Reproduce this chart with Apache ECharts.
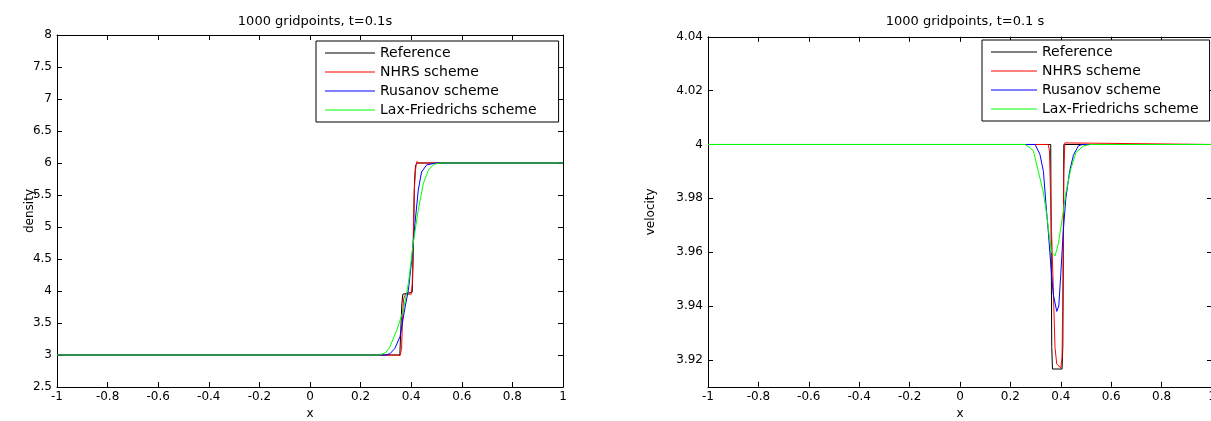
<!DOCTYPE html>
<html><head><meta charset="utf-8">
<script src="https://cdn.jsdelivr.net/npm/echarts@6/dist/echarts.min.js"></script>
<style>html,body{margin:0;padding:0;background:#fff}#c{width:1211px;height:421px}</style>
</head><body><div id="c"></div>
<script>
// ---- data ----
const seriesNames = ['Reference', 'NHRS scheme', 'Rusanov scheme', 'Lax-Friedrichs scheme'];
const seriesColors = ['#000000', '#ff0000', '#0000ff', '#00ff00'];
const titles = ['1000 gridpoints, t=0.1s', '1000 gridpoints, t=0.1 s'];
const yNames = ['density', 'velocity'];
const xTicks = [-1, -0.8, -0.6, -0.4, -0.2, 0, 0.2, 0.4, 0.6, 0.8, 1];
const densityTicks = [2.5, 3, 3.5, 4, 4.5, 5, 5.5, 6, 6.5, 7, 7.5, 8];
const velocityTicks = [3.92, 3.94, 3.96, 3.98, 4, 4.02, 4.04];

// density (x, rho)
const densRef = [[-1,3],[0.355,3],[0.359,3.4],[0.363,3.8],[0.367,3.95],[0.372,3.97],[0.404,3.98],[0.407,4.4],[0.410,5.1],[0.413,5.7],[0.417,5.96],[0.423,6],[1,6]];
const densNHRS = [[-1,3],[0.345,3],[0.356,2.99],[0.362,3.1],[0.366,3.6],[0.370,3.88],[0.378,3.95],[0.400,3.95],[0.404,4.1],[0.408,4.8],[0.412,5.55],[0.417,5.9],[0.422,6.02],[0.432,6],[1,6]];
const densRus = [[-1,3],[0.30,3],[0.316,3.02],[0.335,3.1],[0.356,3.29],[0.376,3.75],[0.389,4.02],[0.402,4.48],[0.415,5.06],[0.428,5.58],[0.441,5.86],[0.461,5.97],[0.50,6],[1,6]];
const densLF = [[-1,3],[0.275,3],[0.30,3.04],[0.316,3.13],[0.343,3.39],[0.369,3.70],[0.389,4.12],[0.408,4.75],[0.428,5.27],[0.448,5.68],[0.468,5.89],[0.49,5.98],[0.515,6],[1,6]];

// velocity (x, u)
const velRef = [[-1,4],[0.360,4],[0.362,3.96],[0.364,3.925],[0.367,3.9166],[0.405,3.9166],[0.408,3.925],[0.410,3.96],[0.412,4],[1,4]];
const velNHRS = [[-1,4],[0.34,4],[0.345,4.0004],[0.35,4],[0.355,3.9976],[0.362,3.9716],[0.37,3.947],[0.377,3.9246],[0.384,3.9184],[0.40,3.917],[0.405,3.921],[0.409,3.95],[0.412,3.99],[0.416,4.0006],[0.42,4],[1,4]];
const velRus = [[-1,4],[0.298,4],[0.317,3.9964],[0.331,3.990],[0.341,3.978],[0.351,3.967],[0.36,3.9556],[0.37,3.9444],[0.384,3.938],[0.392,3.940],[0.40,3.952],[0.41,3.968],[0.42,3.980],[0.435,3.990],[0.45,3.996],[0.47,3.9995],[0.485,4],[1,4]];
const velLF = [[-1,4],[0.258,4],[0.275,3.999],[0.291,3.9977],[0.311,3.990],[0.331,3.982],[0.344,3.974],[0.355,3.9655],[0.364,3.960],[0.377,3.9586],[0.39,3.963],[0.405,3.972],[0.42,3.982],[0.44,3.991],[0.46,3.997],[0.49,3.9995],[0.52,4],[1,4]];

const densData = [densRef, densNHRS, densRus, densLF];
const velData = [velRef, velNHRS, velRus, velLF];

// ---- chart ----
const FONT = 'DejaVu Sans, sans-serif';
const txt = {color: '#000', fontFamily: FONT, fontSize: 12};
const grids = [
  {left: 57, top: 35, width: 506, height: 352, outerBoundsMode: 'none', containLabel: false},
  {left: 708, top: 36.8, width: 504, height: 350, outerBoundsMode: 'none', containLabel: false}
];
const axLine = {show: true, onZero: false, lineStyle: {color: '#000', width: 1}};
const tick = {show: true, inside: true, length: 5, lineStyle: {color: '#000', width: 1}};

function fmt(v) { return String(Math.round(v * 1000) / 1000); }

const xAxis = [], yAxis = [];
for (let g = 0; g < 2; g++) {
  xAxis.push({type: 'value', gridIndex: g, position: 'bottom', min: -1, max: 1, interval: 0.2,
    axisLine: axLine, axisTick: tick, splitLine: {show: false},
    axisLabel: Object.assign({margin: 4, formatter: fmt, showMinLabel: true, showMaxLabel: true, hideOverlap: false}, txt),
    name: 'x', nameLocation: 'middle', nameGap: 21, nameMoveOverlap: false, nameTextStyle: txt});
  xAxis.push({type: 'value', gridIndex: g, position: 'top', min: -1, max: 1, interval: 0.2,
    axisLine: axLine, axisTick: tick, splitLine: {show: false}, axisLabel: {show: false}});
}
// density axes
yAxis.push({type: 'value', gridIndex: 0, position: 'left', min: 2.5, max: 8, interval: 0.5,
  axisLine: axLine, axisTick: tick, splitLine: {show: false},
  axisLabel: Object.assign({margin: 5, formatter: fmt, hideOverlap: false}, txt),
  name: yNames[0], nameLocation: 'middle', nameGap: 21, nameMoveOverlap: false, nameTextStyle: txt});
yAxis.push({type: 'value', gridIndex: 0, position: 'right', min: 2.5, max: 8, interval: 0.5,
  axisLine: axLine, axisTick: tick, splitLine: {show: false}, axisLabel: {show: false}});
// velocity axes
yAxis.push({type: 'value', gridIndex: 1, position: 'left', min: 3.91, max: 4.04,
  axisLine: axLine, splitLine: {show: false},
  axisTick: Object.assign({customValues: velocityTicks}, tick),
  axisLabel: Object.assign({margin: 5, formatter: fmt, customValues: velocityTicks, hideOverlap: false}, txt),
  name: yNames[1], nameLocation: 'middle', nameGap: 51, nameMoveOverlap: false, nameTextStyle: txt});
yAxis.push({type: 'value', gridIndex: 1, position: 'right', min: 3.91, max: 4.04,
  axisLine: axLine, splitLine: {show: false},
  axisTick: Object.assign({customValues: velocityTicks}, tick),
  axisLabel: {show: false, customValues: velocityTicks}});

const series = [];
for (let i = 0; i < 4; i++) {
  series.push({type: 'line', name: seriesNames[i], xAxisIndex: 0, yAxisIndex: 0, data: densData[i],
    symbol: 'none', color: seriesColors[i], lineStyle: {width: 1, color: seriesColors[i]}, animation: false, silent: true});
}
for (let i = 0; i < 4; i++) {
  series.push({type: 'line', name: seriesNames[i], xAxisIndex: 2, yAxisIndex: 2, data: velData[i],
    symbol: 'none', color: seriesColors[i], lineStyle: {width: 1, color: seriesColors[i]}, animation: false, silent: true});
}

const legendBase = {orient: 'vertical', icon: 'rect', itemHeight: 1, itemGap: 5,
  backgroundColor: '#fff', borderColor: '#000', borderWidth: 1, borderRadius: 0,
  selectedMode: false, data: seriesNames,
  textStyle: {color: '#000', fontFamily: FONT, fontSize: 14, lineHeight: 14}};

const option = {
  backgroundColor: '#fff',
  animation: false,
  title: [
    {text: titles[0], left: 310, top: 10, textAlign: 'center', textStyle: Object.assign({fontWeight: 'normal'}, txt, {fontSize: 13})},
    {text: titles[1], left: 960, top: 10, textAlign: 'center', textStyle: Object.assign({fontWeight: 'normal'}, txt, {fontSize: 13})}
  ],
  grid: grids,
  xAxis: xAxis,
  yAxis: yAxis,
  legend: [
    Object.assign({left: 316, top: 41, itemWidth: 50, padding: [5, 22, 5, 9]}, legendBase),
    Object.assign({left: 982, top: 40, itemWidth: 46, padding: [5, 11, 5, 9]}, legendBase)
  ],
  series: series
};
const chart = echarts.init(document.getElementById('c'), null, {renderer: 'canvas'});
chart.setOption(option);
</script></body></html>
